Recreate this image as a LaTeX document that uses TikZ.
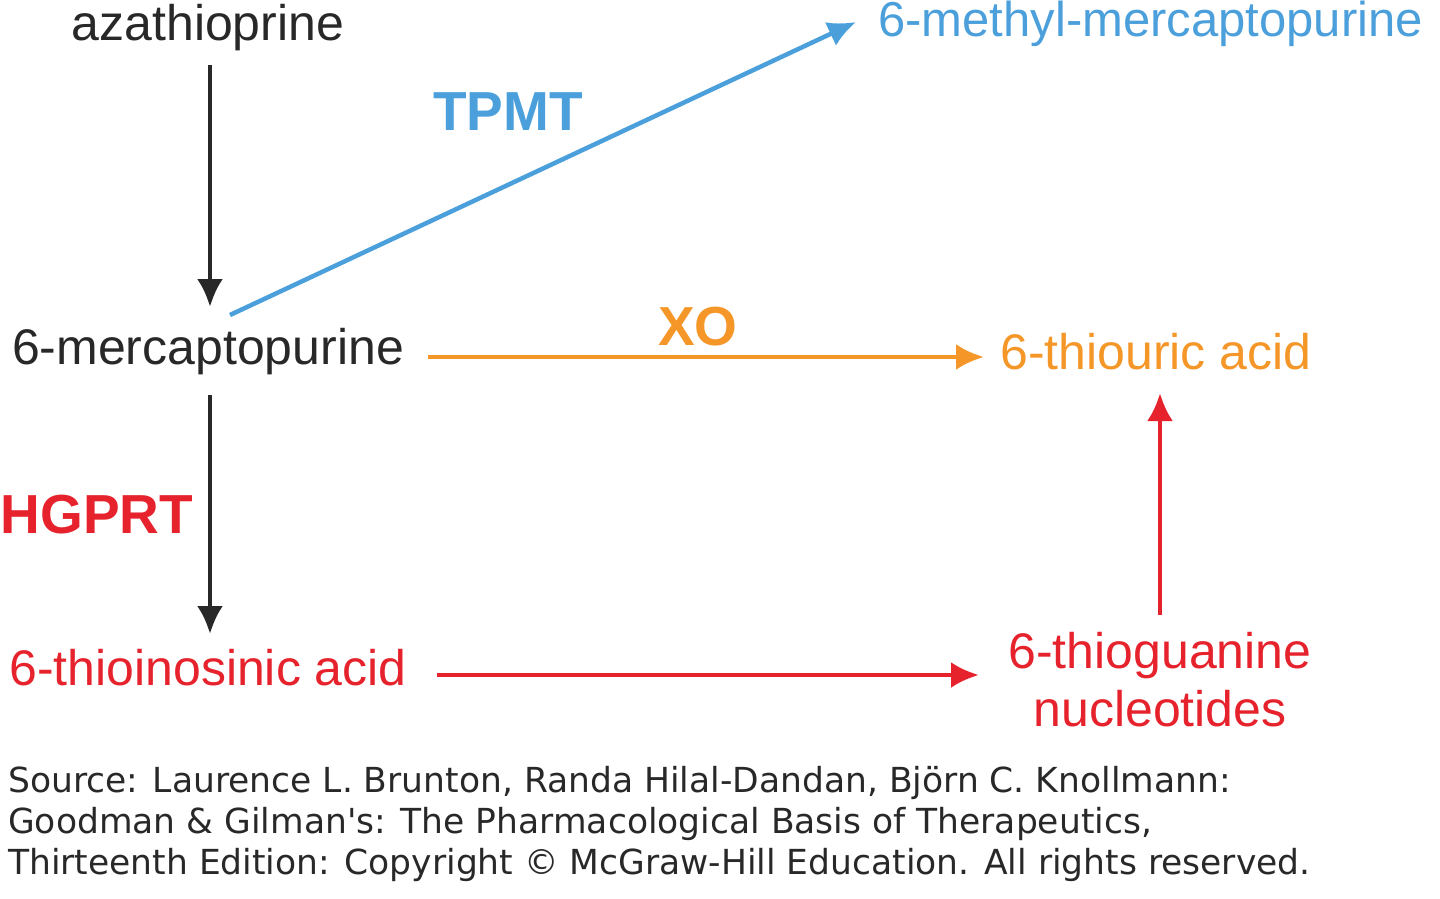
\documentclass[tikz,border=0pt]{standalone}
\usepackage{fontspec}
\setmainfont{Liberation Sans}
\newfontfamily\srcfont{DejaVu Sans}
\usetikzlibrary{arrows.meta}
\definecolor{tblue}{RGB}{75,160,220}
\definecolor{torange}{RGB}{245,150,40}
\definecolor{tred}{RGB}{230,35,45}
\definecolor{tgray}{RGB}{40,40,40}
\begin{document}
\begin{tikzpicture}[x=1pt,y=-1pt,
  lbl/.style={font=\fontsize{50}{56}\selectfont,inner sep=0pt},
  enz/.style={font=\fontsize{55}{60}\selectfont\bfseries,inner sep=0pt},
  arr/.style={line width=4.5pt,-{Latex[length=28pt,width=26pt]}}]
\useasboundingbox (0,0) rectangle (1440,898);
\node[lbl,text=tgray] (aza) at (208,28) {azathioprine};
\node[lbl,text=tblue,anchor=west,font=\fontsize{49}{56}\selectfont] (mmp) at (878,24) {6-methyl-mercaptopurine};
\node[enz,text=tblue] (tpmt) at (508,112) {TPMT};
\node[lbl,text=tgray] (mp) at (208,352) {6-mercaptopurine};
\node[enz,text=torange] (xo) at (698,327) {XO};
\node[lbl,text=torange,anchor=west] (tua) at (1000,352) {6-thiouric acid};
\node[enz,text=tred] (hg) at (97,515) {HGPRT};
\node[lbl,text=tred] (tia) at (208,668) {6-thioinosinic acid};
\node[lbl,text=tred,align=center,font=\fontsize{50}{58}\selectfont] (tgn) at (1160,680) {6-thioguanine\\nucleotides};
\node[text=tgray,anchor=north west,align=left,inner sep=0pt,font=\srcfont\fontsize{34.5}{41}\selectfont] (src) at (8,766)
{Source: Laurence L. Brunton, Randa Hilal-Dandan, Björn C. Knollmann:\\
Goodman \& Gilman's: The Pharmacological Basis of Therapeutics,\\
Thirteenth Edition: Copyright © McGraw-Hill Education. All rights reserved.};
\coordinate (a1) at (210,65); \coordinate (a2) at (210,307);
\coordinate (b1) at (230,315); \coordinate (b2) at (856,22);
\coordinate (c1) at (428,357); \coordinate (c2) at (984,357);
\coordinate (d1) at (210,395); \coordinate (d2) at (210,634);
\coordinate (e1) at (437,675); \coordinate (e2) at (979,675);
\coordinate (f1) at (1160,615); \coordinate (f2) at (1160,393);
\draw[arr,tgray] (a1) -- (a2);
\draw[arr,tblue] (b1) -- (b2);
\draw[arr,torange] (c1) -- (c2);
\draw[arr,tgray] (d1) -- (d2);
\draw[arr,tred] (e1) -- (e2);
\draw[arr,tred] (f1) -- (f2);
\end{tikzpicture}
\end{document}
